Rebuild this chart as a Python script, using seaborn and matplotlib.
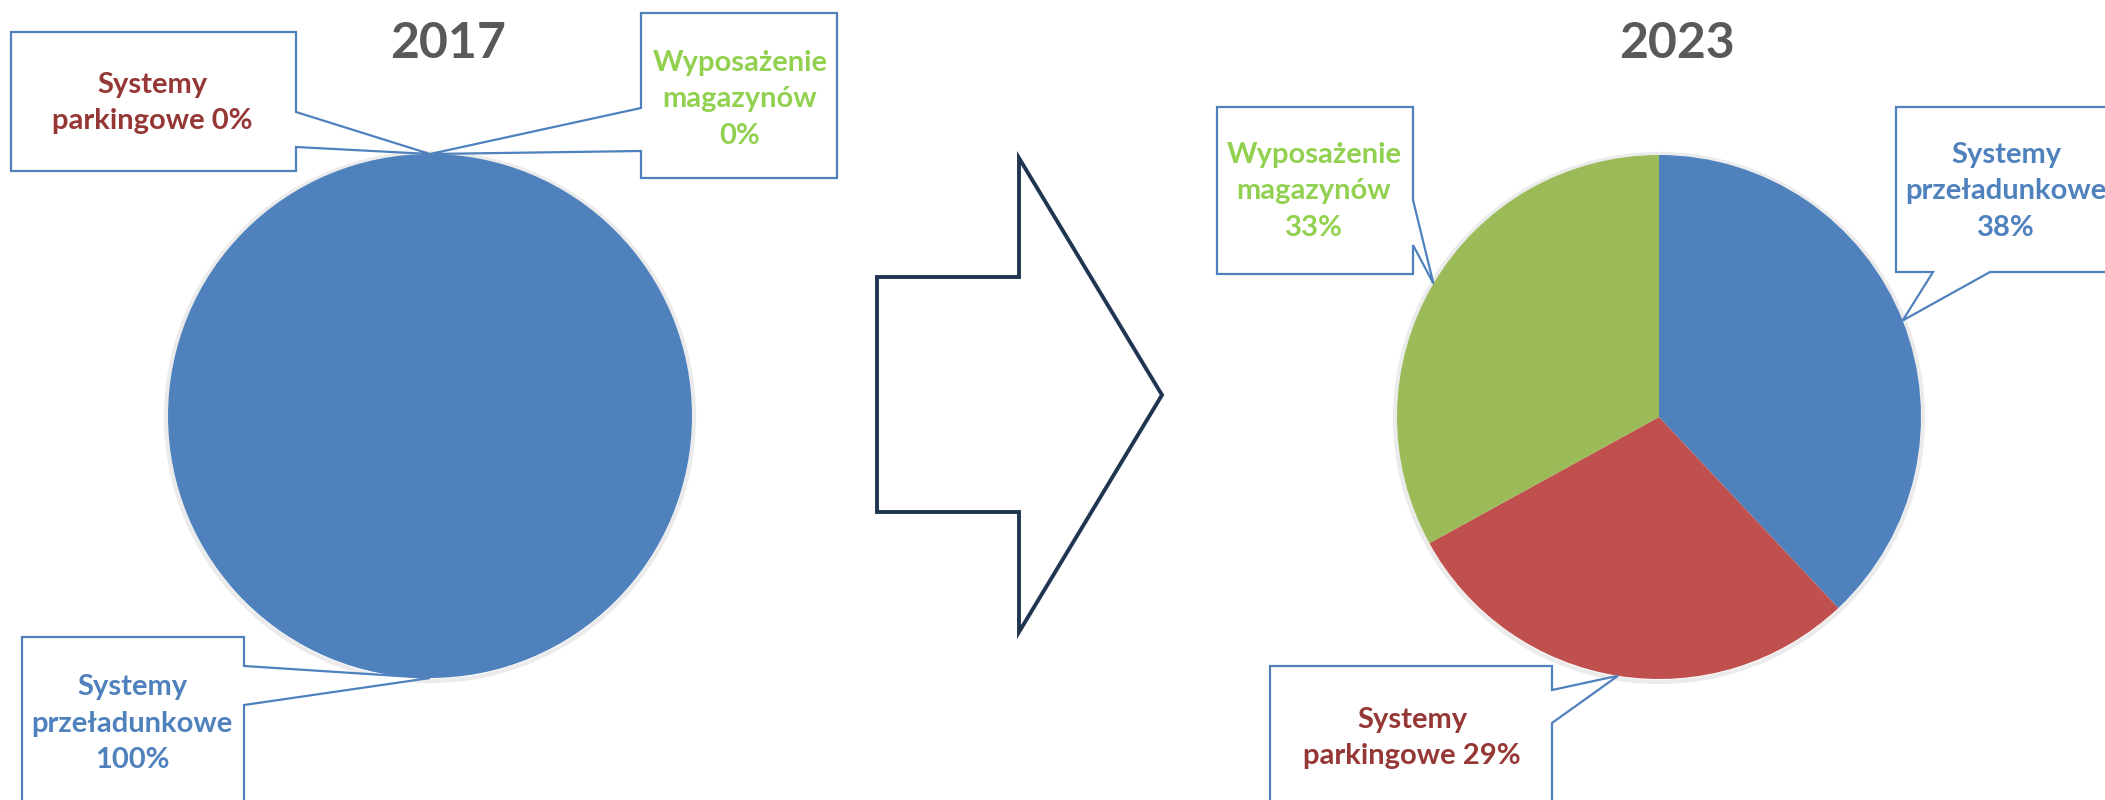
import matplotlib.pyplot as plt
import seaborn as sns
from matplotlib.patches import Polygon, Circle
import numpy as np

# data
years = ["2017", "2023"]
categories = ["Systemy przeładunkowe", "Systemy parkingowe", "Wyposażenie magazynów"]
shares_2017 = [100, 0, 0]
shares_2023 = [38, 29, 33]

label_lines_2017 = [["Systemy", "przeładunkowe", "100%"],
                    ["Systemy", "parkingowe 0%"],
                    ["Wyposażenie", "magazynów", "0%"]]
label_lines_2023 = [["Systemy", "przeładunkowe", "38%"],
                    ["Systemy", "parkingowe 29%"],
                    ["Wyposażenie", "magazynów", "33%"]]

sns.set_theme(style="white")
plt.rcParams['font.family'] = ['Lato', 'DejaVu Sans']

slice_colors = ["#4F81BD", "#C0504D", "#9BBB59"]
text_colors = ["#4F81BD", "#953735", "#92D050"]
box_edge = "#4F81BD"

W, H = 2105, 800
fig = plt.figure(figsize=(W / 100, H / 100), dpi=100)
ax = fig.add_axes([0, 0, 1, 1])


def py(y):
    # pixel row (top-down) -> data y (bottom-up)
    return H - y


def callout(box, side, base, tip, lines, tcenter, color):
    x0, y0, x1, y1 = box
    a, b = base
    if side == "right":
        pts = [(x0, y0), (x1, y0), (x1, a), tip, (x1, b), (x1, y1), (x0, y1)]
    elif side == "left":
        pts = [(x0, y0), (x1, y0), (x1, y1), (x0, y1), (x0, b), tip, (x0, a)]
    else:  # bottom
        pts = [(x0, y0), (x1, y0), (x1, y1), (b, y1), tip, (a, y1), (x0, y1)]
    pts = [(x, py(y)) for x, y in pts]
    ax.add_patch(Polygon(pts, closed=True, facecolor="white", edgecolor=box_edge,
                         lw=1.6, zorder=5))
    ax.text(tcenter[0], py(tcenter[1]), "\n".join(lines), ha="center", va="center",
            multialignment="center", fontsize=21, fontweight="bold", color=color,
            linespacing=1.5, zorder=6)


def tip_point(values, i, center, r):
    tot = sum(values)
    start = sum(values[:i]) / tot
    mid = start + values[i] / tot / 2
    ang = np.deg2rad(90 - 360 * mid)
    return (center[0] + r * np.cos(ang), center[1] - r * np.sin(ang))


pies = [
    (shares_2017, (430, 416), label_lines_2017, [
        dict(box=(22, 637, 244, 830), side="right", base=(666, 705), tc=(132, 724)),
        dict(box=(11, 32, 296, 171), side="right", base=(112, 147), tc=(152, 103)),
        dict(box=(641, 13, 837, 178), side="left", base=(108, 151), tc=(740, 99)),
    ]),
    (shares_2023, (1659, 417), label_lines_2023, [
        dict(box=(1896, 107, 2140, 272), side="bottom", base=(1933, 1990), tc=(2006, 191)),
        dict(box=(1270, 666, 1552, 830), side="right", base=(690, 723), tc=(1412, 738)),
        dict(box=(1217, 107, 1413, 274), side="right", base=(200, 245), tc=(1314, 191)),
    ]),
]

R = 262
for (vals, c, lines, lay), year in zip(pies, years):
    # soft shadow ring
    ax.add_patch(Circle((c[0], py(c[1]) - 1), R + 2, facecolor="none",
                        edgecolor="#C8C8C8", lw=3, alpha=0.35, zorder=1))
    ax.pie(vals, colors=slice_colors, startangle=90, counterclock=False,
           center=(c[0], py(c[1])), radius=R, wedgeprops=dict(lw=0, zorder=2))
    ax.text(c[0] + 18, py(44), year, ha="center", va="center", fontsize=36,
            fontweight="bold", color="#595959")
    for i, l in enumerate(lay):
        tip = tip_point(vals, i, c, R)
        callout(l["box"], l["side"], l["base"], tip, lines[i], l["tc"], text_colors[i])

# block arrow between pies
arrow_pts = [(877, 277), (1019, 277), (1019, 158), (1162, 395),
             (1019, 632), (1019, 512), (877, 512)]
ax.add_patch(Polygon([(x, py(y)) for x, y in arrow_pts], closed=True,
                     facecolor="white", edgecolor="#1F3550", lw=2.8, zorder=3))

ax.set_xlim(0, W)
ax.set_ylim(0, H)
ax.set_aspect("auto")
ax.axis("off")
fig.savefig("out.png", dpi=100, facecolor="white")
